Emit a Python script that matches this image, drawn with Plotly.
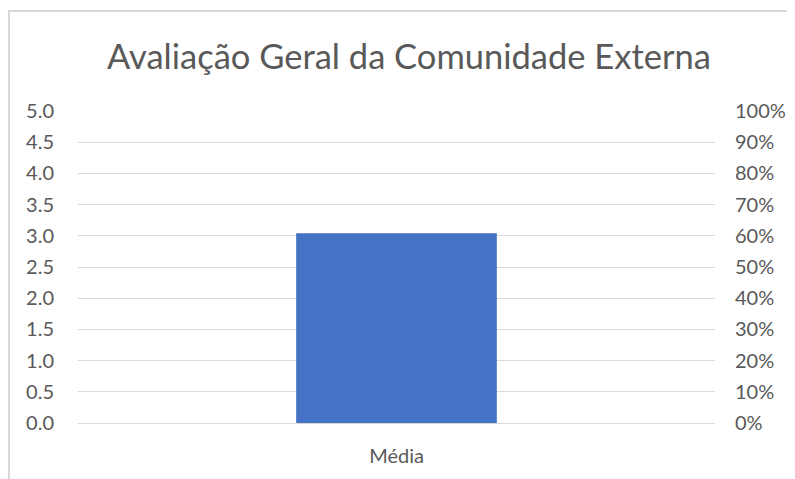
import plotly.graph_objects as go

# data
categories = ["Média"]
values = [3.04]
left_ticks = [0, 0.5, 1.0, 1.5, 2.0, 2.5, 3.0, 3.5, 4.0, 4.5, 5.0]
right_ticks = [0, 0.1, 0.2, 0.3, 0.4, 0.5, 0.6, 0.7, 0.8, 0.9, 1.0]

FONT = "Lato, 'Open Sans', sans-serif"
GREY = "#595959"

# page body has an 8px margin, so the figure sits 8px in from the window corner
W, H = 779, 471
L, T, PW, PH = 70, 103, 637, 312

fig = go.Figure()

fig.add_trace(go.Bar(
    x=categories,
    y=values,
    marker=dict(color="#4472C4", line=dict(width=0)),
    width=0.315,
    showlegend=False,
    hoverinfo="y"
))

# invisible trace so the secondary axis is drawn
fig.add_trace(go.Scatter(
    x=categories,
    y=[None],
    yaxis="y2",
    showlegend=False,
    hoverinfo="skip"
))

fig.update_layout(
    width=W,
    height=H,
    paper_bgcolor="white",
    plot_bgcolor="white",
    margin=dict(l=L, r=W - L - PW, t=T, b=H - T - PH, autoexpand=False),
    title=dict(
        text="Avaliação Geral da Comunidade Externa",
        x=401 / W, xanchor="center",
        y=1 - 49 / H, yanchor="middle",
        font=dict(family=FONT, size=34.5, color=GREY)
    ),
    font=dict(family=FONT, size=20, color=GREY),
    xaxis=dict(
        automargin=False,
        showline=False,
        showgrid=False,
        ticks="",
        tickfont=dict(size=20, color=GREY),
        ticklabelstandoff=19
    ),
    yaxis=dict(
        automargin=False,
        range=[0, 5],
        tickvals=left_ticks,
        ticktext=[f"{v:.1f}" for v in left_ticks],
        showgrid=True,
        gridcolor="#d9d9d9",
        gridwidth=1.3,
        zeroline=True,
        zerolinecolor="#d9d9d9",
        zerolinewidth=1.3,
        showline=False,
        ticks="",
        ticklabelstandoff=23,
        tickfont=dict(size=20, color=GREY)
    ),
    yaxis2=dict(
        automargin=False,
        range=[0, 1],
        overlaying="y",
        side="right",
        tickvals=right_ticks,
        tickformat=".0%",
        showgrid=False,
        zeroline=False,
        showline=False,
        ticks="",
        ticklabelstandoff=19,
        tickfont=dict(size=20, color=GREY)
    ),
    shapes=[dict(
        type="rect",
        xref="paper", yref="paper",
        x0=(1 - L) / PW, x1=1.5,
        y0=-0.5, y1=(PH + T - 3) / PH,
        line=dict(color="#d9d9d9", width=2),
        fillcolor="rgba(0,0,0,0)",
        layer="below"
    )]
)

fig.write_html("out.html")
